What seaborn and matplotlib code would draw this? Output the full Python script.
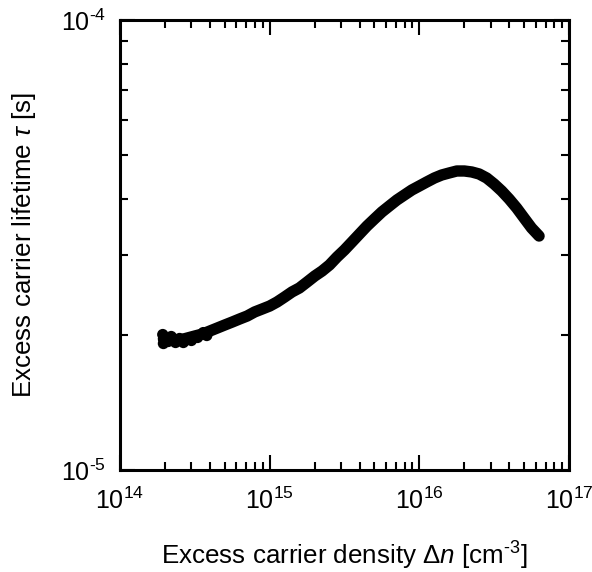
import matplotlib
matplotlib.use("Agg")
import matplotlib.pyplot as plt
import numpy as np
import pandas as pd
import seaborn as sns
from matplotlib.ticker import FixedLocator, FixedFormatter, LogLocator, NullFormatter

# ---- data ----
density = [1.95e14, 2.24e14, 2.51e14, 2.82e14, 3.16e14, 3.55e14, 3.98e14, 4.47e14,
           5.01e14, 5.62e14, 6.31e14, 7.08e14, 7.94e14, 8.91e14, 1.00e15, 1.12e15,
           1.26e15, 1.41e15, 1.58e15, 1.78e15, 2.00e15, 2.24e15, 2.51e15, 2.82e15,
           3.16e15, 3.55e15, 3.98e15, 4.47e15, 5.01e15, 5.62e15, 6.31e15, 7.08e15,
           7.94e15, 8.91e15, 1.00e16, 1.12e16, 1.26e16, 1.41e16, 1.58e16, 1.78e16,
           2.00e16, 2.24e16, 2.51e16, 2.82e16, 3.16e16, 3.55e16, 3.98e16, 4.47e16,
           5.01e16, 5.62e16, 6.31e16]
lifetime = [1.955e-5, 1.945e-5, 1.945e-5, 1.965e-5, 1.985e-5, 2.005e-5, 2.036e-5, 2.068e-5,
            2.100e-5, 2.132e-5, 2.166e-5, 2.199e-5, 2.245e-5, 2.279e-5, 2.314e-5, 2.362e-5,
            2.424e-5, 2.487e-5, 2.538e-5, 2.617e-5, 2.698e-5, 2.768e-5, 2.855e-5, 2.974e-5,
            3.083e-5, 3.212e-5, 3.345e-5, 3.485e-5, 3.613e-5, 3.745e-5, 3.862e-5, 3.981e-5,
            4.084e-5, 4.190e-5, 4.277e-5, 4.365e-5, 4.455e-5, 4.524e-5, 4.571e-5, 4.618e-5,
            4.618e-5, 4.595e-5, 4.548e-5, 4.455e-5, 4.321e-5, 4.169e-5, 4.002e-5, 3.822e-5,
            3.631e-5, 3.450e-5, 3.311e-5]

# scattered (noisy) measurements at low injection
noisy_density = [1.93e14, 1.95e14, 2.00e14, 2.10e14, 2.20e14, 2.35e14, 2.50e14,
                 2.65e14, 2.80e14, 3.00e14, 3.30e14, 3.60e14, 3.80e14]
noisy_lifetime = [2.00e-5, 1.91e-5, 1.97e-5, 1.93e-5, 1.98e-5, 1.92e-5, 1.96e-5,
                  1.92e-5, 1.95e-5, 1.94e-5, 1.97e-5, 2.02e-5, 1.99e-5]

x_ticks = [1e14, 1e15, 1e16, 1e17]
x_tick_labels = ["$10^{14}$", "$10^{15}$", "$10^{16}$", "$10^{17}$"]
y_ticks = [1e-5, 1e-4]
y_tick_labels = ["$10^{\\text{-5}}$", "$10^{\\text{-4}}$"]

# ---- style ----
sns.set_style("ticks")
plt.rcParams.update({
    "font.family": ["Liberation Sans", "DejaVu Sans"],
    "mathtext.fontset": "custom",
    "mathtext.rm": "Liberation Sans",
    "mathtext.it": "Liberation Sans:italic",
    "mathtext.bf": "Liberation Sans:bold",
    "axes.edgecolor": "black",
    "axes.labelcolor": "black",
    "text.color": "black",
    "xtick.color": "black",
    "ytick.color": "black",
    "xtick.labelcolor": "black",
    "ytick.labelcolor": "black",
})

fig = plt.figure(figsize=(5.92, 5.72), dpi=100)
ax = fig.add_axes([120 / 592, 1 - 470 / 572, 449 / 592, 450 / 572])
ax.set_xscale("log")
ax.set_yscale("log")

df = pd.DataFrame({"density": density, "lifetime": lifetime})
sns.lineplot(data=df, x="density", y="lifetime", ax=ax, color="black",
             linewidth=8.2, solid_capstyle="round", solid_joinstyle="round",
             estimator=None, sort=True)
sns.scatterplot(x=noisy_density, y=noisy_lifetime, ax=ax, color="black",
                s=66, edgecolor="none", linewidth=0)

ax.set_xlim(1e14, 1e17)
ax.set_ylim(1e-5, 1e-4)

ax.xaxis.set_major_locator(FixedLocator(x_ticks))
ax.xaxis.set_major_formatter(FixedFormatter(x_tick_labels))
ax.xaxis.set_minor_locator(LogLocator(base=10, subs=np.arange(2, 10), numticks=20))
ax.xaxis.set_minor_formatter(NullFormatter())
ax.yaxis.set_major_locator(FixedLocator(y_ticks))
ax.yaxis.set_major_formatter(FixedFormatter(y_tick_labels))
ax.yaxis.set_minor_locator(LogLocator(base=10, subs=np.arange(2, 10), numticks=20))
ax.yaxis.set_minor_formatter(NullFormatter())

ax.tick_params(which="both", direction="in", top=True, right=True, width=1.5,
               color="black", labelcolor="black")
ax.tick_params(which="major", length=11)
ax.tick_params(which="minor", length=6)
ax.tick_params(axis="x", which="major", labelsize=18, pad=13)
ax.tick_params(axis="y", which="major", labelsize=18, pad=10)

for sp in ax.spines.values():
    sp.set_linewidth(2.2)
    sp.set_color("black")

ax.set_xlabel("Excess carrier density \u0394$n$ [cm$^{\\text{-3}}$]", fontsize=18.7,
              color="black")
ax.set_ylabel("Excess carrier lifetime $\\tau$ [s]", fontsize=18.7, color="black")
ax.xaxis.set_label_coords(0.5, -0.155)
ax.yaxis.set_label_coords(-0.183, 0.5)

fig.savefig("out.png", dpi=100)
